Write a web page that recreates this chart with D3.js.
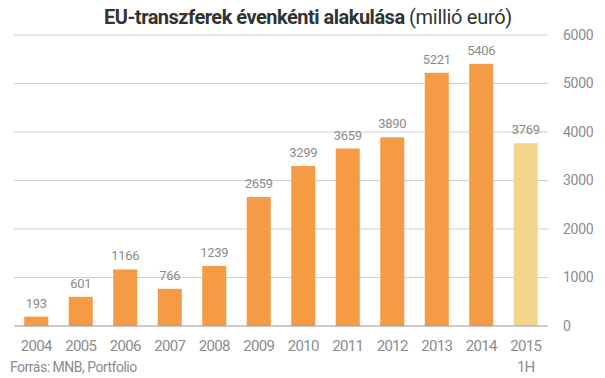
<!DOCTYPE html>
<html><head><meta charset="utf-8">
<script src="https://cdn.jsdelivr.net/npm/d3@7"></script>
<style>body{margin:0;background:#fff;} text{font-family:Roboto,"Noto Sans",sans-serif;}</style>
</head><body><svg id="c" width="605" height="378"></svg>
<script>
const years = ["2004","2005","2006","2007","2008","2009","2010","2011","2012","2013","2014","2015"];
const subLabels = ["","","","","","","","","","","","1H"];
const values = [193,601,1166,766,1239,2659,3299,3659,3890,5221,5406,3769];
const yTicks = [0,1000,2000,3000,4000,5000,6000];

const svg = d3.select("#c");
const x = d3.scaleBand().domain(years).range([14,548]).paddingInner(0.46).paddingOuter(0.23);
const y = d3.scaleLinear().domain([0,6000]).range([326,35]);

// gridlines
svg.append("g").selectAll("line").data(yTicks.filter(d=>d>0)).join("line")
  .attr("x1",14).attr("x2",548).attr("y1",d=>y(d)).attr("y2",d=>y(d))
  .attr("stroke","#d0d0d0").attr("stroke-width",1);

// right axis
const ax = svg.append("g").attr("transform","translate(548,0)")
  .call(d3.axisRight(y).tickValues(yTicks).tickSize(0).tickPadding(15).tickFormat(d3.format("d")));
ax.select(".domain").remove();
ax.selectAll("text").attr("fill","#8c8c8c").style("font-size","14px").style("letter-spacing","-0.3px");

// bars
svg.append("g").selectAll("rect").data(values).join("rect")
  .attr("x",(d,i)=>x(years[i])).attr("width",x.bandwidth())
  .attr("y",d=>y(d)).attr("height",d=>y(0)-y(d))
  .attr("fill",(d,i)=>i===years.length-1?"#F5D58C":"#F69B45");

// value labels
svg.append("g").selectAll("text").data(values).join("text")
  .attr("x",(d,i)=>x(years[i])+x.bandwidth()/2).attr("y",d=>y(d)-9)
  .attr("text-anchor","middle").attr("fill","#8c8c8c")
  .style("font-size","13px").style("letter-spacing","-0.3px").text(d=>d);

// baseline
svg.append("line").attr("x1",14).attr("x2",548).attr("y1",y(0)).attr("y2",y(0))
  .attr("stroke","#999").attr("stroke-width",1);

// x labels
const xl = svg.append("g");
xl.selectAll("text.yr").data(years).join("text").attr("class","yr")
  .attr("x",d=>x(d)+x.bandwidth()/2).attr("y",351)
  .attr("text-anchor","middle").attr("fill","#8c8c8c")
  .style("font-size","15px").style("letter-spacing","-0.7px").text(d=>d);
xl.selectAll("text.sub").data(subLabels).join("text").attr("class","sub")
  .attr("x",(d,i)=>x(years[i])+x.bandwidth()/2).attr("y",372)
  .attr("text-anchor","middle").attr("fill","#8c8c8c")
  .style("font-size","15px").style("letter-spacing","-0.7px").text(d=>d);

// source
svg.append("text").attr("x",10).attr("y",372).attr("fill","#8c8c8c")
  .style("font-size","14px").style("letter-spacing","-0.5px").text("Forrás: MNB, Portfolio");

// title
const t = svg.append("text").attr("x",308).attr("y",24).attr("text-anchor","middle")
  .attr("fill","#333").style("font-size","20px");
t.append("tspan").attr("font-weight","bold").style("letter-spacing","-0.5px").text("EU-transzferek évenkénti alakulása ");
t.append("tspan").style("letter-spacing","-0.3px").text("(millió euró)");
</script></body></html>
